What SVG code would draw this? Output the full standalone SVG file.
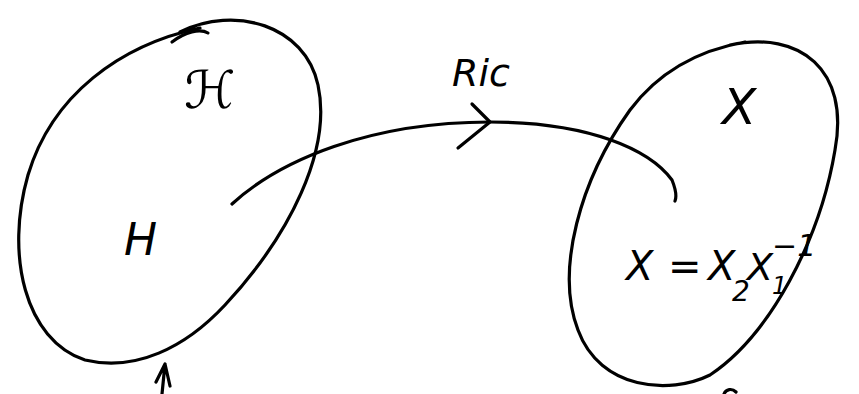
<svg xmlns="http://www.w3.org/2000/svg" width="859" height="394" viewBox="0 0 859 394">
<style>
.s{fill:none;stroke:#000;stroke-width:3.2;stroke-linecap:round;stroke-linejoin:round}
.t{font-family:"DejaVu Sans","Liberation Sans",sans-serif;font-style:italic;fill:#000}
</style>
<rect width="859" height="394" fill="#fff"/>
<g id="space-H">
<path class="s" d="M180,32 C235,5 305,25 318,85 C332,150 290,235 225,305 C185,348 135,372 85,360 C25,340 5,255 28,175 C52,95 120,45 200,28"/>
<path class="s" d="M172,42 C185,32 200,28 208,33"/>
<text class="t" x="184" y="108" font-size="52" font-style="normal" font-family="Liberation Serif,serif">ℋ</text>
<text class="t" x="124" y="255" font-size="44">H</text>
</g>
<g id="space-X">
<path class="s" d="M730,45 C800,30 850,70 835,150 C820,240 770,335 710,375 C670,395 600,390 578,330 C555,270 580,180 630,110 C660,70 700,50 745,42"/>
<path class="s" d="M724,394 C726,389 732,388 736,392"/>
<text class="t" x="722" y="124" font-size="50">X</text>
<text class="t" x="626" y="280" font-size="40">X</text>
<text class="t" x="668" y="280" font-size="40">=</text>
<text class="t" x="708" y="280" font-size="40">X</text>
<text class="t" x="732" y="301" font-size="28">2</text>
<text class="t" x="747" y="280" font-size="38">X</text>
<text class="t" x="772" y="294" font-size="24">1</text>
<text class="t" x="772" y="256" font-size="30">−1</text>
</g>
<g id="connectors">
<path class="s" d="M232,204 C280,160 370,122 490,122 C590,122 650,150 672,180 C676,190 677,196 675,201"/>
<path class="s" d="M472,104 L490,122 L458,148"/>
<path class="s" d="M162,394 L165,364 L170,386 M165,364 L156,382"/>
<text class="t" x="452" y="86" font-size="38">Ric</text>
</g>
</svg>
